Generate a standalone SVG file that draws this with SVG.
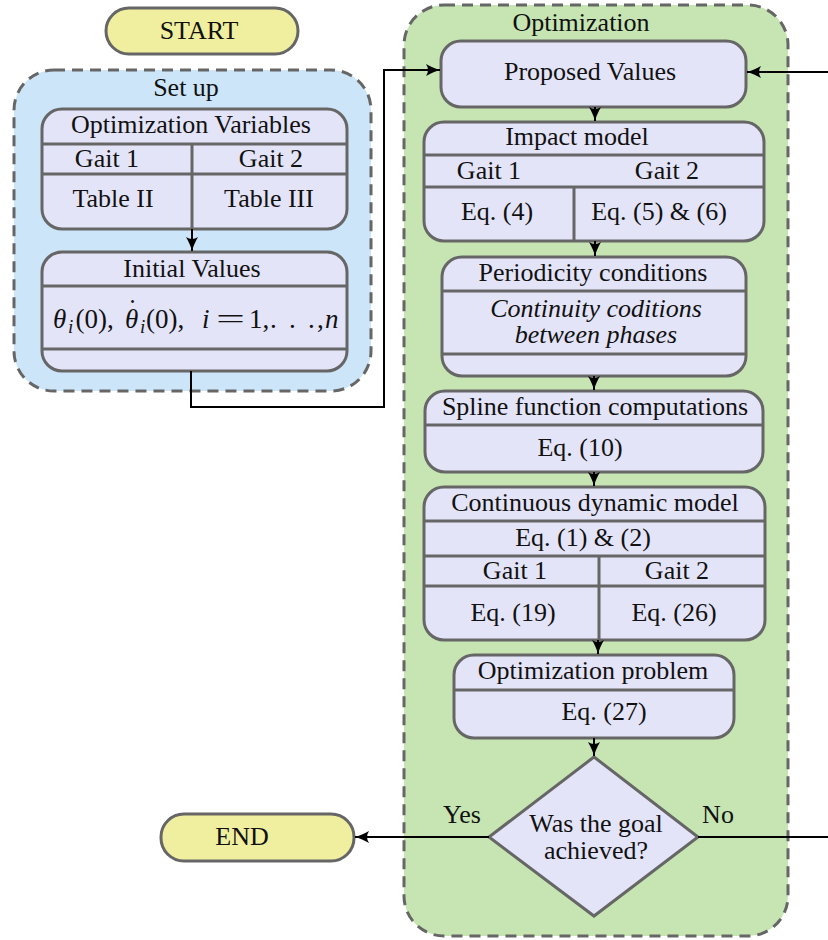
<svg xmlns="http://www.w3.org/2000/svg" width="828" height="940" viewBox="0 0 828 940" font-family="'Liberation Serif', 'DejaVu Serif', serif">
<style>
text{font-family:'Liberation Serif','DejaVu Serif',serif;font-size:26px;fill:#111;text-anchor:middle}
.box{fill:#e4e4f8;stroke:#666;stroke-width:3}
.term{fill:#f0ef9f;stroke:#666;stroke-width:3}
.sep{stroke:#666;stroke-width:3;fill:none}
.cont{stroke:#666;stroke-width:3;stroke-dasharray:11 7;}
.conn{stroke:#000;stroke-width:2;fill:none}
.it{font-style:italic}
.m{font-size:27px;text-anchor:start}
.sub{font-size:19px;font-style:italic;text-anchor:start}
</style>
<defs>
<marker id="arr" markerUnits="userSpaceOnUse" markerWidth="16" markerHeight="14" viewBox="-15 -7 16 14" refX="0" refY="0" orient="auto">
<path d="M-14,-6 Q-6,-1.5 0,0 Q-6,1.5 -14,6 Q-10,0 -14,-6 Z" fill="#000"/>
</marker>
</defs>

<g id="setup">
<rect class="cont" x="14" y="70" width="357" height="321" rx="40" fill="#cde5f8"/>
<text x="186" y="96">Set up</text>
</g>
<g id="optimization">
<rect class="cont" x="404" y="5" width="384" height="931" rx="40" fill="#c6e5b3"/>
<text x="581" y="31">Optimization</text>
</g>

<g id="start">
<rect class="term" x="106" y="8" width="192" height="46" rx="23"/>
<text x="199" y="39">START</text>
</g>

<g id="optvars">
<rect class="box" x="42" y="109" width="305" height="120" rx="20"/>
<path class="sep" d="M42,144H347M42,174H347M192,144V229"/>
<text x="191" y="133">Optimization Variables</text>
<text x="107" y="167">Gait 1</text>
<text x="271" y="167">Gait 2</text>
<text x="113" y="207">Table II</text>
<text x="269" y="207">Table III</text>
</g>

<g id="initvals">
<rect class="box" x="42" y="252" width="305" height="119" rx="20"/>
<path class="sep" d="M42,286H347M42,349H347"/>
<text x="192" y="277">Initial Values</text>
<text class="m it" x="53" y="328">θ</text>
<text class="sub" x="68" y="333">i</text>
<text class="m" x="75.5" y="328">(0),</text>
<text class="m it" x="125" y="328">θ<tspan x="128" y="318" font-style="normal">˙</tspan></text>
<text class="sub" x="140" y="333">i</text>
<text class="m" x="146" y="328">(0),</text>
<text class="m it" x="202" y="328">i</text>
<text class="m" x="216" y="328" textLength="29" lengthAdjust="spacingAndGlyphs">=</text>
<text class="m" x="249" y="328">1,</text>
<text class="m" x="270 289 308 317" y="328">...,</text>
<text class="m it" x="325" y="328">n</text>
</g>

<g id="proposed">
<rect class="box" x="441" y="41" width="305" height="66" rx="20"/>
<text x="590" y="80">Proposed Values</text>
</g>

<g id="impact">
<rect class="box" x="424" y="122" width="340" height="119" rx="20"/>
<path class="sep" d="M424,155H764M424,187H764M574,187V241"/>
<text x="577" y="145">Impact model</text>
<text x="489" y="179">Gait 1</text>
<text x="667" y="179">Gait 2</text>
<text x="497" y="220">Eq. (4)</text>
<text x="659" y="220">Eq. (5) &amp; (6)</text>
</g>

<g id="periodicity">
<rect class="box" x="442" y="257" width="304" height="119" rx="20"/>
<path class="sep" d="M442,291H746M442,354H746"/>
<text x="593" y="281">Periodicity conditions</text>
<text x="596" y="317" class="it" font-size="25.5">Continuity coditions</text>
<text x="596" y="343" class="it" font-size="25.5">between phases</text>
</g>

<g id="spline">
<rect class="box" x="425" y="391" width="338" height="81" rx="20"/>
<path class="sep" d="M425,425H763"/>
<text x="595" y="415">Spline function computations</text>
<text x="580" y="456">Eq. (10)</text>
</g>

<g id="continuous">
<rect class="box" x="424" y="487" width="341" height="153" rx="20"/>
<path class="sep" d="M424,521H765M424,556H765M424,586H765M599,556V640"/>
<text x="595" y="511">Continuous dynamic model</text>
<text x="583" y="546">Eq. (1) &amp; (2)</text>
<text x="515" y="579">Gait 1</text>
<text x="677" y="579">Gait 2</text>
<text x="513" y="621">Eq. (19)</text>
<text x="674" y="621">Eq. (26)</text>
</g>

<g id="optproblem">
<rect class="box" x="454" y="655" width="280" height="83" rx="20"/>
<path class="sep" d="M454,690H734"/>
<text x="593" y="679">Optimization problem</text>
<text x="604" y="720">Eq. (27)</text>
</g>

<g id="decision">
<polygon class="box" points="594,757 698,837 594,916 489,837"/>
<text x="596" y="832">Was the goal</text>
<text x="596" y="859">achieved?</text>
</g>

<g id="end">
<rect class="term" x="161" y="814" width="193" height="47" rx="23"/>
<text x="242" y="845">END</text>
</g>

<g id="connectors">
<path class="conn" d="M192,229V251" marker-end="url(#arr)"/>
<path class="conn" d="M191,371V407H384V70H440" marker-end="url(#arr)"/>
<path class="conn" d="M828,72H747" marker-end="url(#arr)"/>
<path class="conn" d="M595,107V121" marker-end="url(#arr)"/>
<path class="conn" d="M595,241V256" marker-end="url(#arr)"/>
<path class="conn" d="M594,376V390" marker-end="url(#arr)"/>
<path class="conn" d="M594,472V486" marker-end="url(#arr)"/>
<path class="conn" d="M598,640V654" marker-end="url(#arr)"/>
<path class="conn" d="M594,738V756" marker-end="url(#arr)"/>
<path class="conn" d="M489,837H355" marker-end="url(#arr)"/>
<path class="conn" d="M698,837H828"/>
<text x="462" y="823">Yes</text>
<text x="718" y="823">No</text>
</g>
</svg>
